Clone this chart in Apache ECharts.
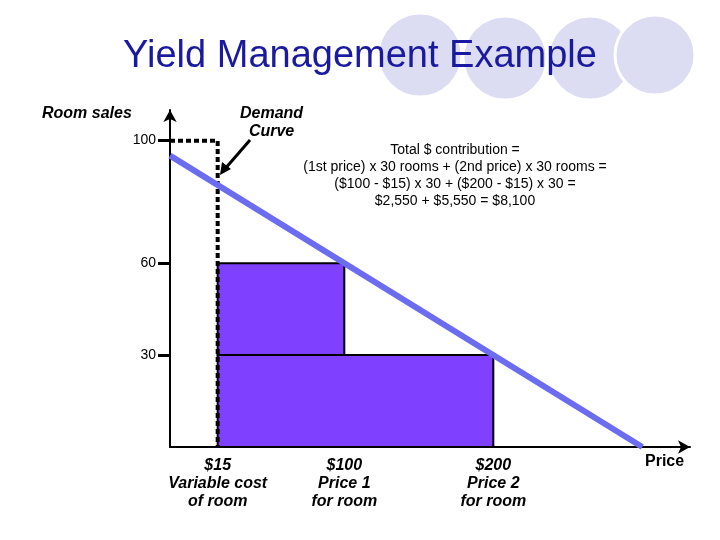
<!DOCTYPE html>
<html><head><meta charset="utf-8">
<script src="https://cdn.jsdelivr.net/npm/echarts@6/dist/echarts.min.js"></script>
<style>html,body{margin:0;padding:0;background:#fff}#c{width:720px;height:540px}</style>
</head><body><div id="c"></div>
<script>
const roomTicks = [30, 60, 100];
const priceTicks = [15, 100, 200];
const priceLabels = {15: '$15\nVariable cost\nof room', 100: '$100\nPrice 1\nfor room', 200: '$200\nPrice 2\nfor room'};
const demandCurve = [[-17, 95.1], [300, 0]];
const dashedLevel = [[-17, 100], [15, 100], [15, 0]];
// [x0, x1, y0, y1]
const blocks = [[15, 200, 0, 30], [15, 100, 30, 60]];

const font = 'Arial, "Liberation Sans", sans-serif';
const chart = echarts.init(document.getElementById('c'));
const circles = [[420,55,42],[505,58,42],[590,58,42],[655,55,40]].map(c => ({
  type: 'circle', shape: {cx: c[0], cy: c[1], r: c[2]}, z: -10,
  style: {fill: '#dcdcf2', stroke: '#fff', lineWidth: 3}
}));
chart.setOption({
  animation: false,
  grid: {left: 170, top: 110, width: 520, height: 337},
  xAxis: {type: 'value', min: -17, max: 332,
    splitLine: {show: false},
    axisLine: {onZero: false, lineStyle: {color: '#000', width: 2}, symbol: ['none', 'arrow'], symbolSize: [10, 12]},
    axisTick: {show: true, inside: true, length: 14, customValues: [100], lineStyle: {color: '#000', width: 3}},
    axisLabel: {customValues: priceTicks, formatter: v => priceLabels[v] || '', color: '#000',
      fontSize: 16, fontWeight: 'bold', fontStyle: 'italic', fontFamily: font, lineHeight: 18, margin: 10}
  },
  yAxis: {type: 'value', min: 0, max: 110,
    splitLine: {show: false},
    axisLine: {onZero: false, lineStyle: {color: '#000', width: 2}, symbol: ['none', 'arrow'], symbolSize: [10, 12]},
    axisTick: {show: true, length: 12, customValues: roomTicks, lineStyle: {color: '#000', width: 3}},
    axisLabel: {customValues: roomTicks, color: '#000', fontSize: 14, fontFamily: font, margin: 14}
  },
  graphic: circles.concat([
    {type: 'text', left: 'center', top: 38, style: {text: 'Yield Management Example', fill: '#1a1aa0', font: '38px ' + font}},
    {type: 'text', left: 42, top: 106, style: {text: 'Room sales', fill: '#000', font: 'italic bold 16px ' + font}},
    {type: 'text', left: 240, top: 105, style: {text: 'Demand\n  Curve', fill: '#000', font: 'italic bold 16px ' + font, lineHeight: 18}},
    {type: 'line', shape: {x1: 250, y1: 140, x2: 224, y2: 170}, style: {stroke: '#000', lineWidth: 3}},
    {type: 'polygon', shape: {points: [[220, 175], [222, 162], [231, 169]]}, style: {fill: '#000'}},
    {type: 'text', x: 455, y: 142, style: {text: 'Total $ contribution =\n(1st price) x 30 rooms + (2nd price) x 30 rooms =\n($100 - $15) x 30 + ($200 - $15) x 30 =\n$2,550 + $5,550 = $8,100', fill: '#000', font: '14px ' + font, lineHeight: 17, align: 'center'}},
    {type: 'text', left: 645, top: 454, style: {text: 'Price', fill: '#000', font: 'bold 16px ' + font}}
  ]),
  series: [
    {type: 'custom', z: 2, data: blocks, renderItem: (p, api) => {
      const a = api.coord([api.value(0), api.value(3)]);
      const b = api.coord([api.value(1), api.value(2)]);
      return {type: 'rect', shape: {x: a[0], y: a[1], width: b[0] - a[0], height: b[1] - a[1]},
        style: {fill: '#8040ff', stroke: '#000', lineWidth: 2}};
    }},
    {type: 'line', z: 3, data: dashedLevel, symbol: 'none',
      lineStyle: {color: '#000', width: 4, type: [5, 3]}},
    {type: 'line', z: 4, data: demandCurve, symbol: 'none',
      lineStyle: {color: '#6c6cf0', width: 6}}
  ]
});
</script></body></html>
